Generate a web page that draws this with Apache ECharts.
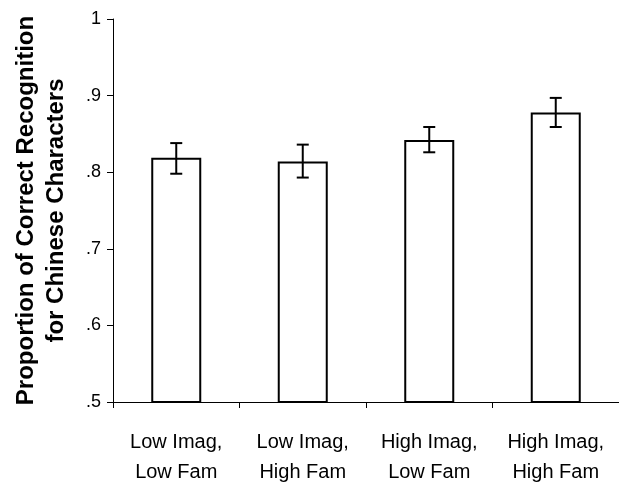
<!DOCTYPE html>
<html><head><meta charset="utf-8">
<script src="https://cdn.jsdelivr.net/npm/echarts@6/dist/echarts.min.js"></script>
<style>html,body{margin:0;padding:0;background:#fff}#c{width:619px;height:485px}</style>
</head><body><div id="c"></div>
<script>
const categories = ['Low Imag,\nLow Fam', 'Low Imag,\nHigh Fam', 'High Imag,\nLow Fam', 'High Imag,\nHigh Fam'];
const means = [0.819, 0.814, 0.842, 0.878];
const errLow = [0.798, 0.793, 0.826, 0.859];
const errHigh = [0.838, 0.836, 0.859, 0.897];
const yTitle = 'Proportion of Correct Recognition\nfor Chinese Characters';

const errData = categories.map((c, i) => [i, errLow[i], errHigh[i]]);
const chart = echarts.init(document.getElementById('c'));
chart.setOption({
  animation: false,
  grid: { left: 113, right: 0, top: 19, bottom: 83, outerBoundsMode: 'none', containLabel: false },
  xAxis: {
    type: 'category', data: categories,
    axisLine: { lineStyle: { color: '#000', width: 1 } },
    axisTick: { show: true, length: 6, lineStyle: { color: '#000' } },
    axisLabel: { color: '#000', fontFamily: 'Liberation Sans, Arial', fontSize: 20, lineHeight: 30, margin: 25 }
  },
  yAxis: {
    type: 'value', min: 0.5, max: 1, interval: 0.1,
    name: yTitle, nameLocation: 'middle', nameRotate: 90, nameGap: 42,
    nameTextStyle: { color: '#000', fontFamily: 'Liberation Sans, Arial', fontSize: 24, fontWeight: 'bold', lineHeight: 30 },
    axisLine: { show: true, lineStyle: { color: '#000', width: 1 } },
    axisTick: { show: true, length: 6, lineStyle: { color: '#000' } },
    splitLine: { show: false },
    axisLabel: {
      color: '#000', fontFamily: 'Liberation Sans, Arial', fontSize: 18, margin: 12,
      formatter: v => Math.abs(v - 1) < 1e-9 ? '1' : ('.' + Math.round(v * 10))
    }
  },
  series: [
    {
      type: 'bar', data: means, barWidth: 50,
      itemStyle: { color: '#fff', borderColor: '#000', borderWidth: 2 }
    },
    {
      type: 'custom', data: errData,
      renderItem: function (params, api) {
        const x = api.value(0);
        const lo = api.coord([x, api.value(1)]);
        const hi = api.coord([x, api.value(2)]);
        const hw = 6;
        const st = { stroke: '#000', lineWidth: 2 };
        return {
          type: 'group', children: [
            { type: 'line', shape: { x1: lo[0], y1: lo[1], x2: hi[0], y2: hi[1] }, style: st },
            { type: 'line', shape: { x1: lo[0] - hw, y1: lo[1], x2: lo[0] + hw, y2: lo[1] }, style: st },
            { type: 'line', shape: { x1: hi[0] - hw, y1: hi[1], x2: hi[0] + hw, y2: hi[1] }, style: st }
          ]
        };
      },
      z: 10
    }
  ]
});
</script></body></html>
